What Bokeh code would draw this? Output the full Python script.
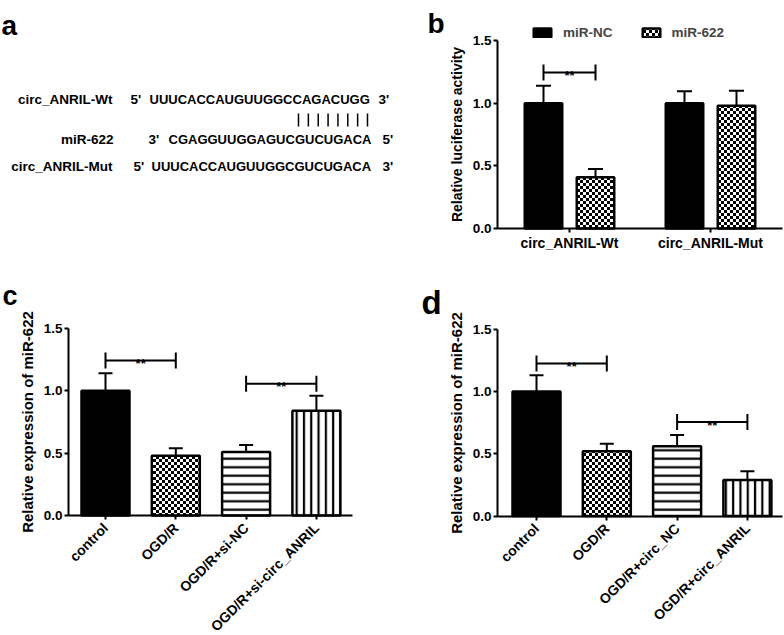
import math
import zlib
import struct
import base64
from bokeh.plotting import figure
from bokeh.layouts import column, row
from bokeh.models import (Range1d, FixedTicker, PrintfTickFormatter, Whisker, TeeHead,
                          ColumnDataSource, Legend, LegendItem, ImageURLTexture)
from bokeh.core.properties import value
from bokeh.embed import file_html
from bokeh.resources import INLINE

FONT = "Liberation Sans"

# ---------------- data ----------------
# panel a: sequence alignment
a_names = ["circ_ANRIL-Wt", "miR-622", "circ_ANRIL-Mut"]
a_left_ends = ["5'", "3'", "5'"]
a_right_ends = ["3'", "5'", "3'"]
a_sequences = ["UUUCACCAUGUUGGCCAGACUGG", "CGAGGUUGGAGUCGUCUGACA", "UUUCACCAUGUUGGCGUCUGACA"]
a_pair_count = 8

# panel b: luciferase
b_groups = ["circ_ANRIL-Wt", "circ_ANRIL-Mut"]
b_series = ["miR-NC", "miR-622"]
b_nc_mean = [1.00, 1.00]
b_nc_err = [0.14, 0.095]
b_622_mean = [0.41, 0.98]
b_622_err = [0.065, 0.12]
b_sig_group = [0]
b_sig_level = [1.245]
b_sig_text = ["**"]

# panel c
c_groups = ["control", "OGD/R", "OGD/R+si-NC", "OGD/R+si-circ_ANRIL"]
c_mean = [1.00, 0.48, 0.51, 0.84]
c_err = [0.14, 0.06, 0.055, 0.12]
c_sig_pairs = [(0, 1), (2, 3)]
c_sig_level = [1.243, 1.056]
c_sig_text = ["**", "**"]

# panel d
d_groups = ["control", "OGD/R", "OGD/R+circ_NC", "OGD/R+circ_ANRIL"]
d_mean = [1.00, 0.52, 0.56, 0.29]
d_err = [0.13, 0.06, 0.09, 0.07]
d_sig_pairs = [(0, 1), (2, 3)]
d_sig_level = [1.224, 0.755]
d_sig_text = ["**", "**"]

y_ticks = [0.0, 0.5, 1.0, 1.5]
y_axis_max = 1.5


# ---------------- styles ----------------
def checker_png(n):
    size = 2 * n
    rows = [bytes([0 if ((x // n) + (y // n)) % 2 == 0 else 255 for x in range(size)])
            for y in range(size)]
    raw = b"".join(b"\x00" + r for r in rows)

    def chunk(t, d):
        return (struct.pack(">I", len(d)) + t + d +
                struct.pack(">I", zlib.crc32(t + d) & 0xffffffff))
    png = (b"\x89PNG\r\n\x1a\n" +
           chunk(b"IHDR", struct.pack(">IIBBBBB", size, size, 8, 0, 0, 0, 0)) +
           chunk(b"IDAT", zlib.compress(raw)) + chunk(b"IEND", b""))
    return "data:image/png;base64," + base64.b64encode(png).decode("ascii")


CHECKER_IMG = ImageURLTexture(url=checker_png(3))


def bar_styles(checker, checker_scale):
    return [
        dict(fill_color="black"),
        dict(fill_color="white", hatch_pattern=value("checker"), hatch_extra={"checker": checker},
             hatch_scale=checker_scale, hatch_color="black"),
        dict(fill_color="white", hatch_pattern="horizontal_line", hatch_scale=8.5,
             hatch_weight=2.2, hatch_color="black"),
        dict(fill_color="white", hatch_pattern="vertical_line", hatch_scale=7.3,
             hatch_weight=2.2, hatch_color="black"),
    ]


class Frame:
    """Maps page pixels of a panel to data units (layout helper)."""
    def __init__(self, left, top, width, height, x_ref_px, x_ref_val, x_unit, y0_px, y_unit):
        self.left, self.top, self.width, self.height = left, top, width, height
        self.x_ref_px, self.x_ref_val, self.x_unit = x_ref_px, x_ref_val, x_unit
        self.y0_px, self.y_unit = y0_px, y_unit

    def x(self, px):
        return self.x_ref_val + (px - self.x_ref_px) / self.x_unit

    def y(self, py):
        return (self.y0_px - py) / self.y_unit


def base_fig(fr):
    p = figure(width=fr.width, height=fr.height,
               x_range=Range1d(fr.x(fr.left), fr.x(fr.left + fr.width)),
               y_range=Range1d(fr.y(fr.top + fr.height), fr.y(fr.top)),
               toolbar_location=None, output_backend="svg", min_border=0)
    p.xgrid.visible = False
    p.ygrid.visible = False
    p.outline_line_color = None
    p.background_fill_color = "white"
    p.border_fill_color = "white"
    return p


def style_axes(p, fr, yaxis_px, xaxis_end_px, ylabel, xticks, xlabels, ylabel_size, rotate):
    for ax in (p.xaxis[0], p.yaxis[0]):
        ax.axis_line_width = 2
        ax.axis_line_color = "black"
        ax.major_tick_line_width = 2
        ax.major_tick_line_color = "black"
        ax.major_tick_out = 4
        ax.major_tick_in = 0
        ax.minor_tick_line_color = None
        ax.major_label_text_font = FONT
        ax.major_label_text_font_style = "bold"
        ax.major_label_text_color = "black"
        ax.major_label_standoff = 2
    yloc = fr.x(yaxis_px)
    p.yaxis.fixed_location = yloc
    p.xaxis.fixed_location = 0
    p.yaxis.bounds = (0, y_axis_max)
    p.xaxis.bounds = (yloc, fr.x(xaxis_end_px))
    p.yaxis.ticker = FixedTicker(ticks=y_ticks)
    p.yaxis.formatter = PrintfTickFormatter(format="%.1f")
    p.yaxis.major_label_text_font_size = "13.5px"
    p.yaxis.axis_label = ylabel
    p.yaxis.axis_label_text_font = FONT
    p.yaxis.axis_label_text_font_style = "bold"
    p.yaxis.axis_label_text_font_size = ylabel_size
    p.yaxis.axis_label_text_color = "black"
    p.yaxis.axis_label_standoff = 5
    p.xaxis.ticker = FixedTicker(ticks=xticks)
    p.xaxis.major_label_overrides = {t: l for t, l in zip(xticks, xlabels)}
    p.xaxis.major_label_text_font_size = "14px"
    if rotate:
        p.xaxis.major_label_orientation = math.pi / 4
        p.xaxis.major_label_standoff = 6


def add_errors(p, xs, means, errs, head):
    src = ColumnDataSource(dict(x=xs, lower=means, upper=[m + e for m, e in zip(means, errs)]))
    w = Whisker(source=src, base="x", lower="lower", upper="upper", dimension="height",
                line_width=2, line_color="black", lower_head=None,
                upper_head=TeeHead(size=head, line_width=2, line_color="black"))
    p.add_layout(w)


def add_brackets(p, x_left, x_right, levels, texts, tick):
    p.segment(x0=x_left, y0=levels, x1=x_right, y1=levels, line_width=2, line_color="black")
    p.segment(x0=x_left, y0=[l - tick for l in levels], x1=x_left, y1=[l + tick for l in levels],
              line_width=2, line_color="black")
    p.segment(x0=x_right, y0=[l - tick for l in levels], x1=x_right, y1=[l + tick for l in levels],
              line_width=2, line_color="black")
    p.text(x=[(a + b) / 2 for a, b in zip(x_left, x_right)], y=levels, text=texts,
           text_align="center", text_baseline="alphabetic", y_offset=3,
           text_font=value(FONT), text_font_style="bold", text_font_size="13px", text_color="black")


def panel_letter(p, fr, letter, px, py, size):
    p.text(x=[fr.x(px)], y=[fr.y(py)], text=[letter], text_align="left",
           text_baseline="alphabetic", text_font=value(FONT), text_font_style="bold",
           text_font_size=size, text_color="black")


STY = bar_styles(CHECKER_IMG, 6)

# ---------------- panel a ----------------
pa = figure(width=400, height=258, x_range=Range1d(0, 400), y_range=Range1d(258, 0),
            toolbar_location=None, output_backend="svg", x_axis_type=None, y_axis_type=None,
            min_border=0)
pa.xgrid.visible = False
pa.ygrid.visible = False
pa.outline_line_color = None

row_y = [99, 139, 166]
name_x = [112, 113, 112]
left_end_x = [130, 148, 133]
seq_x = [149, 168, 151]
right_end_x = [378, 382, 382]
txt = dict(text_font=value(FONT), text_font_style="bold", text_color="black",
           text_baseline="middle")
pa.text(x=name_x, y=row_y, text=a_names, text_align="right", text_font_size="13.5px", **txt)
pa.text(x=left_end_x, y=row_y, text=a_left_ends, text_align="left", text_font_size="13.5px", **txt)
pa.text(x=seq_x, y=row_y, text=a_sequences, text_align="left", text_font_size="13px", **txt)
pa.text(x=right_end_x, y=row_y, text=a_right_ends, text_align="left", text_font_size="13.5px", **txt)
pipe_x = [298 + k * 69.0 / (a_pair_count - 1) for k in range(a_pair_count)]
pa.segment(x0=pipe_x, y0=[113] * a_pair_count, x1=pipe_x, y1=[126] * a_pair_count,
           line_width=1.5, line_color="black")
pa.text(x=[1], y=[25], text=["a"], text_align="left", text_baseline="alphabetic",
        text_font=value(FONT), text_font_style="bold", text_font_size="28px", text_color="black")

# ---------------- panel b ----------------
fb = Frame(400, 0, 384, 258, 569, 1, 141.0, 228, 125.3)
pb = base_fig(fb)
gx = [i + 1 for i in range(len(b_groups))]
off = 26 / fb.x_unit
bw = 37.5 / fb.x_unit
x_nc = [g - off for g in gx]
x_622 = [g + off for g in gx]
r_nc = pb.vbar(x=x_nc, top=b_nc_mean, width=bw, bottom=0, line_color="black", line_width=2.5,
               **STY[0])
r_622 = pb.vbar(x=x_622, top=b_622_mean, width=bw, bottom=0, line_color="black", line_width=2.5,
                **STY[1])
add_errors(pb, x_nc, b_nc_mean, b_nc_err, 15)
add_errors(pb, x_622, b_622_mean, b_622_err, 15)
add_brackets(pb, [x_nc[g] for g in b_sig_group], [x_622[g] for g in b_sig_group],
             b_sig_level, b_sig_text, 8 / fb.y_unit)
style_axes(pb, fb, 497, 782, "Relative luciferase activity", gx, b_groups, "14px", False)
leg = Legend(items=[LegendItem(label=b_series[0], renderers=[r_nc]),
                    LegendItem(label=b_series[1], renderers=[r_622])],
             orientation="horizontal", location=(131, 218), padding=0, margin=0, spacing=27,
             glyph_width=22, glyph_height=11, label_standoff=10, label_height=14,
             label_text_font=FONT, label_text_font_style="bold", label_text_font_size="13.5px",
             border_line_color=None, background_fill_alpha=0)
pb.add_layout(leg)
panel_letter(pb, fb, "b", 427, 23, "28px")

# ---------------- panel c ----------------
fc = Frame(0, 258, 400, 377, 105, 1, 70.3, 515, 124.7)
pc = base_fig(fc)
cx = [i + 1 for i in range(len(c_groups))]
cw = 48 / fc.x_unit
for i in range(len(c_groups)):
    pc.vbar(x=[cx[i]], top=[c_mean[i]], width=cw, bottom=0, line_color="black",
            line_width=2.5, **STY[i])
add_errors(pc, cx, c_mean, c_err, 14)
add_brackets(pc, [cx[a] for a, b in c_sig_pairs], [cx[b] for a, b in c_sig_pairs],
             c_sig_level, c_sig_text, 8 / fc.y_unit)
style_axes(pc, fc, 68, 352, "Relative expression of miR-622", cx, c_groups, "15px", True)
panel_letter(pc, fc, "c", 2, 295, "27px")

# ---------------- panel d ----------------
fd = Frame(400, 258, 384, 377, 536, 1, 70.3, 515.5, 124.5)
pd = base_fig(fd)
dx = [i + 1 for i in range(len(d_groups))]
for i in range(len(d_groups)):
    pd.vbar(x=[dx[i]], top=[d_mean[i]], width=cw, bottom=0, line_color="black",
            line_width=2.5, **STY[i])
add_errors(pd, dx, d_mean, d_err, 14)
add_brackets(pd, [dx[a] for a, b in d_sig_pairs], [dx[b] for a, b in d_sig_pairs],
             d_sig_level, d_sig_text, 8 / fd.y_unit)
style_axes(pd, fd, 497, 782, "Relative expression of miR-622", dx, d_groups, "15px", True)
panel_letter(pd, fd, "d", 421, 302, "33px")

layout = column(row(pa, pb), row(pc, pd))
open("out.html", "w").write(file_html(layout, INLINE))
